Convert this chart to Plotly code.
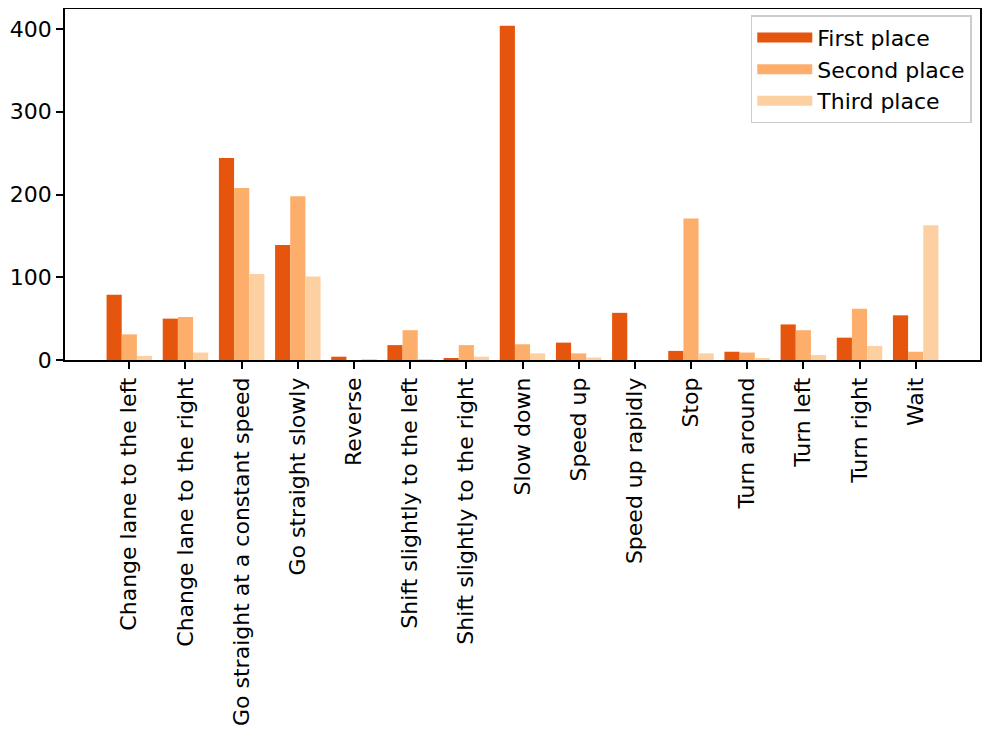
import plotly.graph_objects as go

categories = ["Change lane to the left", "Change lane to the right", "Go straight at a constant speed",
              "Go straight slowly", "Reverse", "Shift slightly to the left", "Shift slightly to the right",
              "Slow down", "Speed up", "Speed up rapidly", "Stop", "Turn around", "Turn left",
              "Turn right", "Wait"]
first_place = [79, 50, 244, 139, 4, 18, 2, 404, 21, 57, 11, 10, 43, 27, 54]
second_place = [31, 52, 208, 198, 0, 36, 18, 19, 8, 0, 171, 9, 36, 62, 10]
third_place = [5, 9, 104, 101, 1, 1, 4, 8, 3, 0, 8, 2, 6, 17, 163]
y_ticks = [0, 100, 200, 300, 400]

colors = ["#e6550d", "#fdae6b", "#fdd0a2"]
names = ["First place", "Second place", "Third place"]
series = [first_place, second_place, third_place]

fig = go.Figure()
for name, vals, col in zip(names, series, colors):
    fig.add_trace(go.Bar(x=categories, y=vals, name=name, showlegend=False,
                         marker=dict(color=col, line=dict(width=0))))
# legend entries drawn as wide swatches (like matplotlib patches)
for name, col in zip(names, colors):
    fig.add_trace(go.Scatter(x=[None], y=[None], mode="lines", name=name,
                             line=dict(color=col, width=16), hoverinfo="skip"))

font = "DejaVu Sans, Liberation Sans, sans-serif"
fig.update_layout(
    width=983, height=725,
    barmode="group", bargap=0.19, bargroupgap=0,
    plot_bgcolor="white", paper_bgcolor="white",
    margin=dict(l=57, r=11, t=1, b=373, pad=0),
    font=dict(family=font, size=22, color="black"),
    showlegend=True,
    legend=dict(x=0.991, y=0.982, xanchor="right", yanchor="top",
                bordercolor="#cccccc", borderwidth=1.5, bgcolor="rgba(255,255,255,0.8)",
                font=dict(size=22), tracegroupgap=0, itemwidth=55),
)
fig.update_xaxes(range=[-1.145, 15.145], tickangle=-90, ticks="outside", ticklen=7,
                 tickwidth=1.5, tickcolor="black", showline=True, linecolor="black",
                 linewidth=1.5, mirror=True, showgrid=False, automargin=False)
fig.update_yaxes(range=[0, 424.2], tickvals=y_ticks, ticks="outside", ticklen=7,
                 tickwidth=1.5, tickcolor="black", showline=True, linecolor="black",
                 linewidth=1.5, mirror=True, showgrid=False, zeroline=False, automargin=False)

fig.write_html("out.html")
